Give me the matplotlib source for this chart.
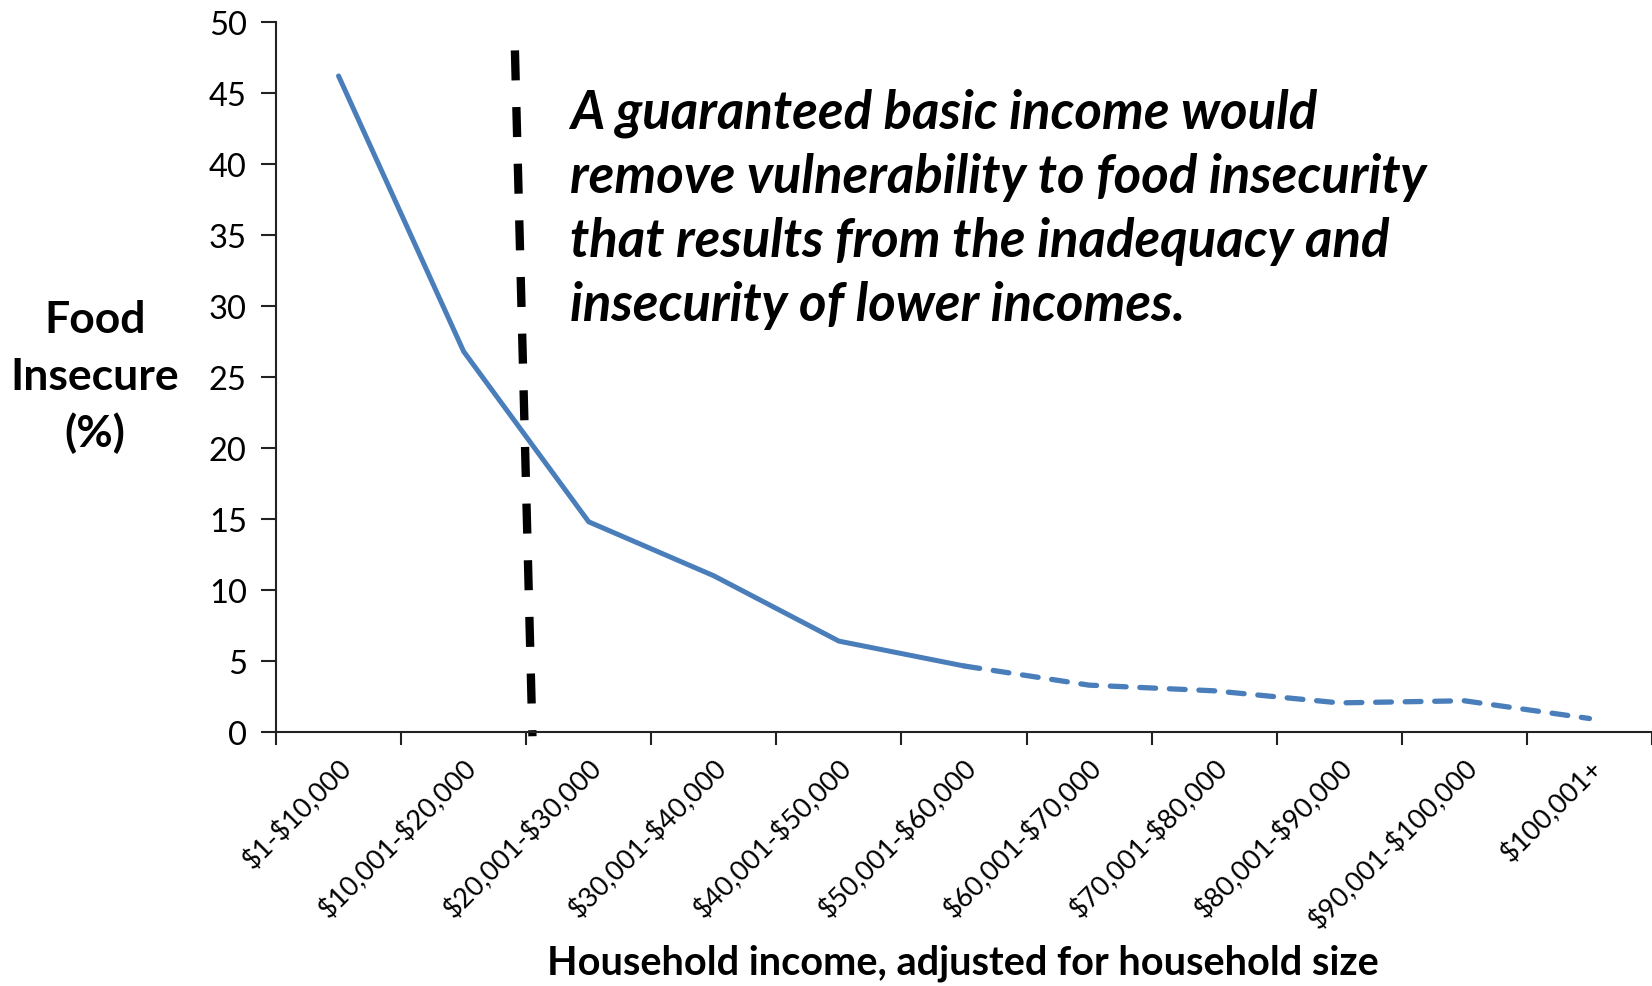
import matplotlib.pyplot as plt
from matplotlib.ticker import FixedLocator, NullFormatter

categories = ["$1-$10,000", "$10,001-$20,000", "$20,001-$30,000", "$30,001-$40,000",
              "$40,001-$50,000", "$50,001-$60,000", "$60,001-$70,000", "$70,001-$80,000",
              "$80,001-$90,000", "$90,001-$100,000", "$100,001+"]
food_insecure = [46.2, 26.8, 14.8, 11.0, 6.4, 4.65, 3.3, 2.9, 2.05, 2.2, 0.95]
# first 6 points drawn solid, the rest dashed
solid_until = 5

# slanted dashed divider (x in category units, y in %)
divider_x = [1.41, 1.55]
divider_y = [48.0, -0.3]

note_lines = [
    "A guaranteed basic income would",
    "remove vulnerability to food insecurity",
    "that results from the inadequacy and",
    "insecurity of lower incomes.",
]

plt.rcParams["font.family"] = ["Lato", "DejaVu Sans"]
plt.rcParams["text.parse_math"] = False

W, H = 1652, 987
fig = plt.figure(figsize=(W / 100, H / 100), dpi=100)
ax = fig.add_axes([276 / W, 1 - 733 / H, 1 - 276 / W, (733 - 23) / H])

blue = "#4A7EBB"
x = list(range(len(categories)))
ax.plot(x[:solid_until + 1], food_insecure[:solid_until + 1], color=blue, lw=3.6,
        solid_capstyle="round", solid_joinstyle="round")
ax.plot(x[solid_until:], food_insecure[solid_until:], color=blue, lw=3.8,
        dashes=(3, 2.6), dash_capstyle="round", dash_joinstyle="round")

ax.plot(divider_x, divider_y, color="black", lw=6, dashes=(3.6, 3.2),
        dash_capstyle="butt", clip_on=False)

ax.set_xlim(-0.5, len(categories) - 0.5)
ax.set_ylim(0, 50)
ax.set_yticks(range(0, 51, 5))
ax.xaxis.set_major_locator(FixedLocator([i - 0.5 for i in range(len(categories) + 1)]))
ax.xaxis.set_major_formatter(NullFormatter())
ax.xaxis.set_minor_locator(FixedLocator(x))
ax.set_xticklabels(categories, minor=True, rotation=45, ha="right",
                   rotation_mode="anchor", fontsize=19.5)
ax.tick_params(axis="x", which="minor", length=0, pad=16)
ax.tick_params(axis="x", which="major", length=9, width=1.5, direction="out",
               color="#222222")
ax.tick_params(axis="y", length=11, width=1.5, labelsize=23.5, pad=10, color="#222222")

for side in ("top", "right"):
    ax.spines[side].set_visible(False)
for side in ("left", "bottom"):
    ax.spines[side].set_linewidth(1.5)
    ax.spines[side].set_color("#222222")

for i, line in enumerate(note_lines):
    fig.text(570 / W, 1 - (129 + 64 * i) / H, line, fontsize=38, fontweight="bold",
             fontstyle="italic", va="baseline", ha="left")

for i, word in enumerate(["Food", "Insecure", "(%)"]):
    fig.text(95 / W, 1 - (333 + 57 * i) / H, word, fontsize=32, fontweight="bold",
             va="baseline", ha="center")

fig.text(963 / W, 1 - 975 / H, "Household income, adjusted for household size",
         fontsize=28.5, fontweight="bold", va="baseline", ha="center")

fig.savefig("out.png", dpi=100)
